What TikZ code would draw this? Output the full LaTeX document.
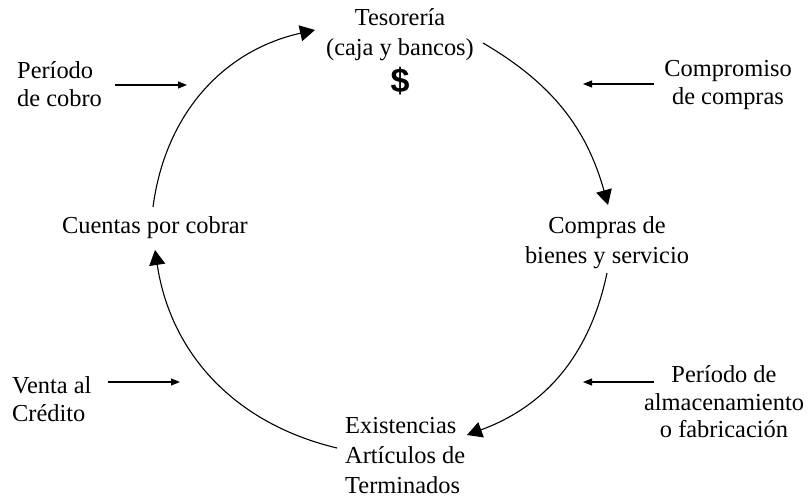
\documentclass[tikz,border=0pt]{standalone}
\usepackage{fontspec}
\setmainfont{Liberation Serif}
\newfontfamily\signofont{Liberation Sans}
\usetikzlibrary{arrows.meta, positioning}
\tikzset{
  txt/.style={inner sep=0pt, align=center, font=\fontsize{24.4}{30}\selectfont},
  % etiquetas laterales (periodos)
  lat/.style={inner sep=0pt, font=\fontsize{24.4}{27.5}\selectfont},
  ciclo/.style={-{Triangle[length=15pt, width=16pt]}, line width=1.1pt},
  flecha/.style={-{Triangle[length=9pt, width=7pt]}, line width=1.1pt}
}

\begin{document}
\begin{tikzpicture}[x=1pt, y=1pt]
  \useasboundingbox (0,0) rectangle (808,500);
  % nodos del ciclo
  \node[txt] (tes) at (400,465) {Tesorería\\(caja y bancos)};
  \node[inner sep=0pt, font=\signofont\bfseries\fontsize{34}{34}\selectfont] (dolar) at (400,419) {\$};
  \node[txt] (compras) at (607,257) {Compras de\\bienes y servicio};
  \node[txt] (cuentas) at (155,272) {Cuentas por cobrar};
  \node[txt, align=left, anchor=west] (exist) at (345,44) {Existencias\\Artículos de\\Terminados};
  % periodos
  \node[lat, align=left, anchor=west] (cobro) at (17,416) {Período\\de cobro};
  \node[lat, align=center] (compromiso) at (728,415) {Compromiso\\de compras};
  \node[lat, align=left, anchor=west] (venta) at (12,101) {Venta al\\Crédito};
  \node[lat, align=center] (almacen) at (724,98) {Período de\\almacenamiento\\o fabricación};
  % extremos de los arcos
  \coordinate (s1) at (153,293); \coordinate (e1) at (315,470);
  \coordinate (s2) at (483,457); \coordinate (e2) at (608,295);
  \coordinate (s3) at (607,227); \coordinate (e3) at (467,65);
  \coordinate (s4) at (337,52);  \coordinate (e4) at (155,250);
  \draw[ciclo] (s1) to[bend left=35] (e1);
  \draw[ciclo] (s2) to[bend left=22] (e2);
  \draw[ciclo] (s3) to[bend left=29] (e3);
  \draw[ciclo] (s4) to[bend left=34] (e4);
  % flechas laterales
  \coordinate (p1) at (187,415); \coordinate (p2) at (583,416);
  \coordinate (p3) at (180,118); \coordinate (p4) at (583,118);
  \draw[flecha] (cobro.east |- p1) ++(13,0) -- (p1);
  \draw[flecha] (compromiso.west |- p2) ++(-10,0) -- (p2);
  \draw[flecha] (venta.east |- p3) ++(16,0) -- (p3);
  \draw[flecha] (almacen.west |- p4) ++(10,0) -- (p4);
\end{tikzpicture}
\end{document}
